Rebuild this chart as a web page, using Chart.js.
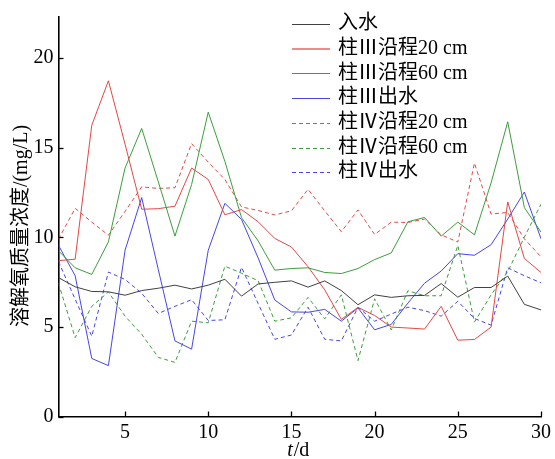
<!DOCTYPE html>
<html>
<head>
<meta charset="utf-8">
<script src="https://cdn.jsdelivr.net/npm/chart.js@4.4.1/dist/chart.umd.min.js"></script>
<style>
  html, body { margin: 0; padding: 0; background: #fff; }
  #wrap { width: 555px; height: 459px; position: relative; }
</style>
</head>
<body>
<div id="wrap"><canvas id="c" width="555" height="459"></canvas></div>
<script>
// Sampling days
const days = [1, 2, 3, 4, 5, 6, 7, 8, 9, 10, 11, 12, 13, 14, 15, 16, 17, 18, 19, 20, 21, 22, 23, 24, 25, 26, 27, 28, 29, 30];

// Dissolved oxygen, mg/L
const inflow = [7.75, 7.24, 6.98, 6.96, 6.77, 7.03, 7.16, 7.33, 7.12, 7.33, 7.66, 6.72, 7.40, 7.49, 7.57, 7.22, 7.57, 7.03, 6.24, 6.79, 6.65, 6.74, 6.76, 7.42, 6.66, 7.20, 7.20, 7.84, 6.26, 5.95];
const col3At20 = [8.70, 8.78, 16.26, 18.74, 15.20, 11.57, 11.60, 11.74, 13.87, 13.23, 11.26, 11.55, 10.87, 9.94, 9.46, 8.36, 7.07, 5.42, 6.09, 5.64, 4.99, 4.94, 4.88, 6.15, 4.26, 4.30, 4.99, 11.98, 8.82, 8.04];
const col3At60 = [9.25, 8.30, 7.93, 9.75, 13.87, 16.08, 13.10, 10.07, 12.95, 16.99, 14.24, 11.10, 9.80, 8.17, 8.26, 8.30, 8.04, 7.98, 8.26, 8.76, 9.13, 10.87, 11.11, 10.07, 10.85, 10.14, 13.04, 16.45, 11.66, 10.29];
const col3Out = [9.55, 7.86, 3.24, 2.84, 9.28, 12.22, 8.20, 4.22, 3.76, 9.28, 11.90, 11.00, 8.85, 6.50, 5.84, 5.82, 5.98, 5.32, 6.06, 4.84, 5.14, 6.33, 7.44, 8.12, 9.09, 9.00, 9.59, 11.02, 12.53, 9.92];
const col4At20 = [9.90, 11.62, 10.85, 10.12, 11.45, 12.82, 12.73, 12.77, 15.23, 14.20, 13.23, 11.70, 11.50, 11.25, 11.48, 12.68, 11.48, 10.32, 11.53, 10.16, 10.85, 10.83, 11.02, 10.14, 9.74, 14.15, 11.30, 11.39, 9.92, 8.91];
const col4At60 = [7.44, 4.40, 6.15, 6.95, 5.60, 4.59, 3.30, 3.02, 5.32, 5.23, 8.39, 8.00, 7.58, 5.32, 5.51, 6.65, 5.45, 6.79, 3.12, 6.57, 4.83, 7.02, 6.74, 6.74, 9.55, 5.27, 6.79, 8.08, 10.01, 11.85];
const col4Out = [8.65, 6.55, 4.48, 8.06, 7.65, 6.88, 5.75, 6.15, 6.52, 5.36, 5.40, 8.33, 6.30, 4.31, 4.55, 6.10, 4.31, 4.22, 6.10, 5.32, 5.72, 6.10, 5.91, 5.60, 6.43, 5.47, 5.10, 8.30, 7.86, 7.46];

const seriesLabels = ['入水', '柱Ⅲ沿程20 cm', '柱Ⅲ沿程60 cm', '柱Ⅲ出水', '柱Ⅳ沿程20 cm', '柱Ⅳ沿程60 cm', '柱Ⅳ出水'];
const xTicks = [5, 10, 15, 20, 25, 30];
const yTicks = [0, 5, 10, 15, 20];
const xTitleItalic = 't';
const xTitleRest = '/d';
const yTitle = '溶解氧质量浓度/(mg/L)';

const FONT = "'Liberation Serif', 'Noto Sans CJK SC', serif";
const C_BLACK = '#404040', C_RED = '#e64646', C_GREEN = '#3c9e3c', C_BLUE = '#4646e6';
const DASH = [4, 3];

function pts(vals) { return days.map((d, i) => ({ x: d, y: vals[i] })); }

// line style per series; legend swatch width/colour where it differs
const styleList = [
  { c: C_BLACK, dash: [], key: C_BLACK, kw: 1 },
  { c: C_RED, dash: [], key: '#ee8a8a', kw: 2 },
  { c: C_GREEN, dash: [], key: C_GREEN, kw: 1 },
  { c: C_BLUE, dash: [], key: C_BLUE, kw: 1 },
  { c: C_RED, dash: DASH, key: C_RED, kw: 1 },
  { c: C_GREEN, dash: DASH, key: C_GREEN, kw: 1 },
  { c: C_BLUE, dash: DASH, key: C_BLUE, kw: 1 }
];
const valueList = [inflow, col3At20, col3At60, col3Out, col4At20, col4At60, col4Out];

const datasets = valueList.map((v, i) => ({
  label: seriesLabels[i],
  data: pts(v),
  borderColor: styleList[i].c,
  borderDash: styleList[i].dash,
  borderWidth: 1,
  pointRadius: 0,
  tension: 0,
  fill: false
}));

// Inward tick marks, legend block and axis titles
const decor = {
  id: 'decor',
  afterDraw(chart) {
    const ctx = chart.ctx, xs = chart.scales.x, ys = chart.scales.y, a = chart.chartArea;
    ctx.save();
    ctx.strokeStyle = '#000';
    ctx.lineWidth = 1.3;
    xs.ticks.forEach(t => {
      const px = Math.round(xs.getPixelForValue(t.value)) + 0.5;
      ctx.beginPath(); ctx.moveTo(px, a.bottom); ctx.lineTo(px, a.bottom - 5); ctx.stroke();
    });
    ys.ticks.forEach(t => {
      const py = Math.round(ys.getPixelForValue(t.value)) + 0.5;
      ctx.beginPath(); ctx.moveTo(a.left, py); ctx.lineTo(a.left + 5, py); ctx.stroke();
    });

    // legend
    ctx.font = '20px ' + FONT;
    ctx.textBaseline = 'middle';
    ctx.textAlign = 'left';
    chart.data.datasets.forEach((ds, i) => {
      const y = 24 + i * 24.7;
      const st = styleList[i];
      ctx.strokeStyle = st.key;
      ctx.lineWidth = st.kw;
      ctx.setLineDash(st.dash);
      const ly = st.kw % 2 ? Math.round(y) + 0.5 : Math.round(y);
      ctx.beginPath(); ctx.moveTo(292, ly); ctx.lineTo(330, ly); ctx.stroke();
      ctx.setLineDash([]);
      ctx.fillStyle = '#000';
      ctx.fillText(ds.label, 338, y);
    });

    // x title
    ctx.fillStyle = '#000';
    ctx.textBaseline = 'middle';
    ctx.font = 'italic 20px ' + FONT;
    const w1 = ctx.measureText(xTitleItalic).width;
    ctx.font = '20px ' + FONT;
    const w2 = ctx.measureText(xTitleRest).width;
    const cx = (a.left + a.right) / 2 - 2;
    let sx = cx - (w1 + w2) / 2;
    ctx.font = 'italic 20px ' + FONT;
    ctx.fillText(xTitleItalic, sx, 451);
    ctx.font = '20px ' + FONT;
    ctx.fillText(xTitleRest, sx + w1 + 1, 451);

    // y title
    ctx.translate(22, 226);
    ctx.rotate(-Math.PI / 2);
    ctx.textAlign = 'center';
    ctx.fillText(yTitle, 0, 0);
    ctx.restore();
  }
};

new Chart(document.getElementById('c'), {
  type: 'line',
  data: { datasets },
  options: {
    responsive: false,
    animation: false,
    devicePixelRatio: 1,
    layout: { padding: { top: 12, right: 11, left: 0, bottom: 0 } },
    plugins: { legend: { display: false }, tooltip: { enabled: false } },
    scales: {
      x: {
        type: 'linear',
        min: 1, max: 30,
        afterBuildTicks: s => { s.ticks = xTicks.map(v => ({ value: v })); },
        afterFit: s => { s.height = 42.5; },
        grid: { display: false, drawTicks: false },
        border: { display: true, color: '#000', width: 1.6 },
        ticks: { color: '#000', padding: 4, font: { family: FONT, size: 20 }, maxRotation: 0 }
      },
      y: {
        type: 'linear',
        min: 0, max: 22.3,
        afterBuildTicks: s => { s.ticks = yTicks.map(v => ({ value: v })); },
        afterFit: s => { s.width = 58.5; },
        grid: { display: false, drawTicks: false },
        border: { display: true, color: '#000', width: 1.6 },
        ticks: { color: '#000', padding: 5, font: { family: FONT, size: 20 } }
      }
    }
  },
  plugins: [decor]
});
</script>
</body>
</html>
